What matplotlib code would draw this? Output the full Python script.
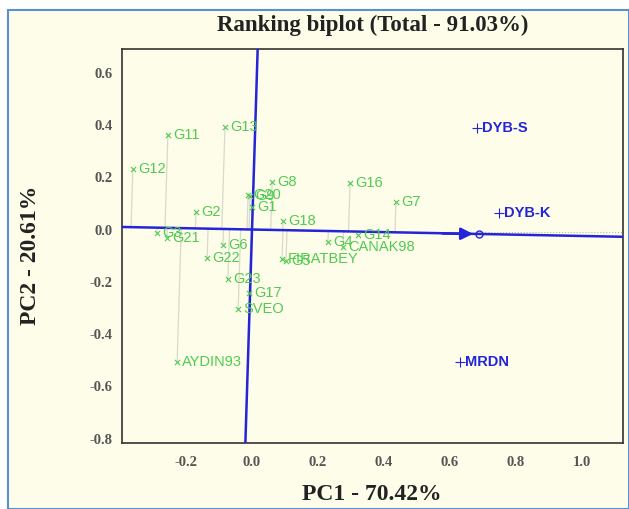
import numpy as np
import matplotlib
matplotlib.use('Agg')
from matplotlib import pyplot as plt
from matplotlib.patches import Rectangle

# genotype scores (PC1, PC2)
gen_names = ['G11', 'G13', 'G12', 'G2', 'G20', 'G9', 'G1', 'G8', 'G16', 'G7', 'G18',
             'G3', 'G21', 'G6', 'G22', 'G23', 'G17', 'SVEO', 'AYDIN93',
             'G14', 'G4', 'CANAK98', 'FIRATBEY', 'G5']
gen_pc1 = [-0.255, -0.082, -0.361, -0.170, -0.012, -0.006, 0.000, 0.061, 0.297, 0.436, 0.094,
           -0.288, -0.258, -0.088, -0.136, -0.073, -0.009, -0.042, -0.227,
           0.321, 0.230, 0.276, 0.091, 0.103]
gen_pc2 = [0.362, 0.392, 0.231, 0.067, 0.132, 0.128, 0.086, 0.182, 0.178, 0.105, 0.033,
           -0.013, -0.033, -0.059, -0.109, -0.189, -0.243, -0.304, -0.507,
           -0.021, -0.048, -0.067, -0.113, -0.122]

# environment scores
env_names = ['DYB-S', 'DYB-K', 'MRDN']
env_pc1 = [0.682, 0.748, 0.630]
env_pc2 = [0.388, 0.063, -0.507]

# average environment coordinate
aec = (0.688, -0.017)

green = '#4FCB4F'
blue = '#2424D8'
cream = '#FEFDEA'

fig = plt.figure(figsize=(6.29, 5.09), dpi=100)
fig.patch.set_facecolor('white')
# light blue frame around the whole chart
frame = Rectangle((8 / 629, 0), 1 - 8 / 629, 1 - 10 / 509, transform=fig.transFigure,
                  facecolor=cream, edgecolor='#5B8FD0', lw=1.5, zorder=-10)
fig.add_artist(frame)

ax = fig.add_axes([122 / 629, 1 - 443 / 509, (623 - 122) / 629, (443 - 49) / 509])
ax.set_zorder(5)
ax.set_facecolor(cream)
ax.set_xlim(-0.394, 1.124)
ax.set_ylim(-0.816, 0.690)

# AEA axis and its perpendicular, through the origin
u = np.array(aec) / np.hypot(*aec)
v = np.array([-u[1], u[0]])
t = np.array([-3, 3])
ax.plot(t * u[0], t * u[1], color=blue, lw=1.8, zorder=3)
ax.plot(t * v[0], t * v[1], color=blue, lw=1.8, zorder=3)
ax.annotate('', xy=(aec[0] - 0.01, aec[1]), xytext=(aec[0] - 0.12, aec[1] + 0.002),
            arrowprops=dict(arrowstyle='-|>', color=blue, lw=1.8, mutation_scale=18), zorder=4)
ax.plot([aec[0]], [aec[1]], 'o', ms=5, mfc='none', mec=blue, mew=1, zorder=5)
ax.plot([aec[0], 1.2], [aec[1] + 0.006, aec[1] + 0.006], ':', color='#B8B8A8', lw=0.8, zorder=2)

# projection lines of the genotypes onto the AEA
for x, y in zip(gen_pc1, gen_pc2):
    d = x * u[0] + y * u[1]
    ax.plot([x, d * u[0]], [y, d * u[1]], color='#D9D9CC', lw=0.9, zorder=1)

ax.scatter(gen_pc1, gen_pc2, marker='x', s=14, color=green, lw=0.8, zorder=6)
for n, x, y in zip(gen_names, gen_pc1, gen_pc2):
    ax.text(x + 0.016, y, n, color=green, fontsize=10.5, va='center', ha='left',
            family='Liberation Sans', zorder=7)

ax.scatter(env_pc1, env_pc2, marker='+', s=45, color=blue, lw=0.8, zorder=6)
for n, x, y in zip(env_names, env_pc1, env_pc2):
    ax.text(x + 0.014, y, n, color=blue, fontsize=10.5, va='center', ha='left',
            family='Liberation Sans', fontweight='bold', zorder=7)

ax.set_xticks([-0.2, 0.0, 0.2, 0.4, 0.6, 0.8, 1.0])
ax.set_yticks([-0.8, -0.6, -0.4, -0.2, 0.0, 0.2, 0.4, 0.6])
ax.xaxis.set_major_formatter(matplotlib.ticker.FormatStrFormatter('%.1f'))
ax.yaxis.set_major_formatter(matplotlib.ticker.FormatStrFormatter('%.1f'))
ax.tick_params(length=0, labelsize=10.5, labelcolor='#555555')
ax.tick_params(axis='x', pad=9)
ax.tick_params(axis='y', pad=7)
for lab in ax.get_xticklabels() + ax.get_yticklabels():
    lab.set_family('Liberation Serif')
    lab.set_fontweight('bold')
for s in ax.spines.values():
    s.set_color('#333333')
    s.set_linewidth(1.2)

fig.text(373 / 629, 1 - 25 / 509, 'Ranking biplot (Total - 91.03%)', ha='center', va='center',
         fontsize=16.5, fontweight='bold', family='Liberation Serif', color='#222222')
fig.text(372 / 629, 1 - 494 / 509, 'PC1 - 70.42%', ha='center', va='center',
         fontsize=17, fontweight='bold', family='Liberation Serif', color='#222222')
fig.text(31 / 629, 1 - 255 / 509, 'PC2 - 20.61%', ha='center', va='center', rotation=90,
         fontsize=17, fontweight='bold', family='Liberation Serif', color='#222222')

plt.savefig('out.png', dpi=100, facecolor=fig.get_facecolor())
